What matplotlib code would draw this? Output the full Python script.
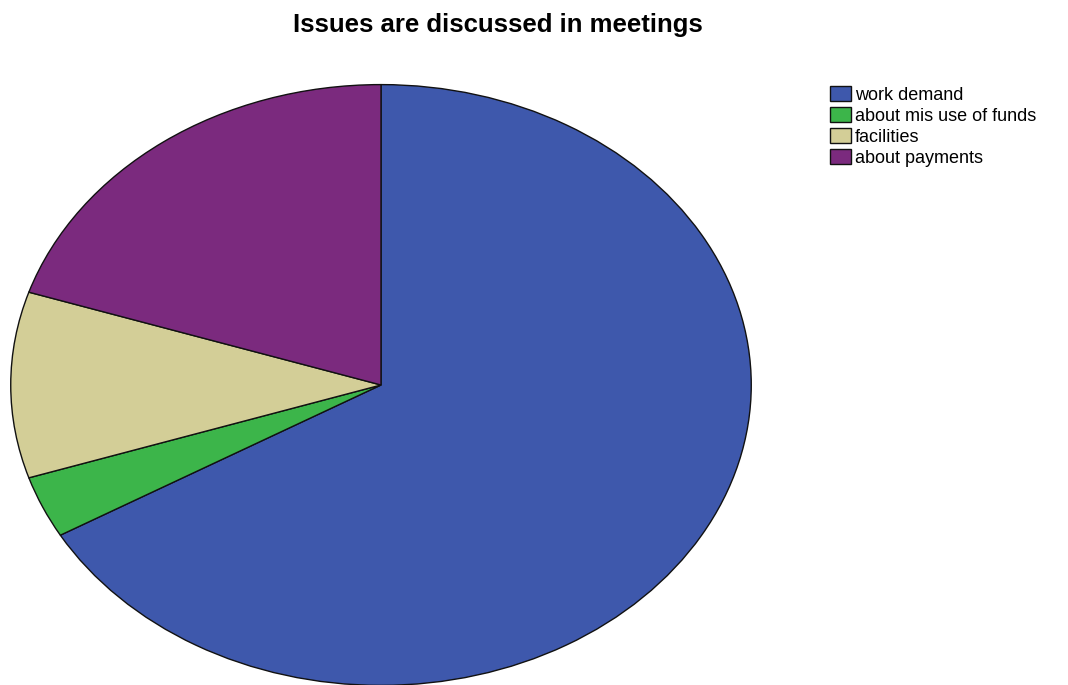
import matplotlib.pyplot as plt

# Responses: which issues are discussed in meetings
labels = ["work demand", "about mis use of funds", "facilities", "about payments"]
counts = [20, 1, 3, 6]
colors = ["#3E58AC", "#3CB54A", "#D3CE97", "#7B2A7E"]

plt.rcParams["font.family"] = ["Liberation Sans", "DejaVu Sans"]

fig = plt.figure(figsize=(10.68, 6.85), dpi=100)
W, H = 1068, 685

# pie axes stretched horizontally, so the pie is drawn as an ellipse
ax = fig.add_axes([10 / W, -1 / H, 742 / W, 602 / H])
wedges, _ = ax.pie(
    counts,
    colors=colors,
    startangle=90,
    counterclock=False,
    wedgeprops=dict(edgecolor="#111111", linewidth=1.0),
)
ax.set_aspect("auto")
ax.set_xlim(-1.002, 1.002)
ax.set_ylim(-1.002, 1.002)
ax.axis("off")

fig.text(498 / W, 1 - 32 / H, "Issues are discussed in meetings",
         ha="center", va="baseline", fontsize=18.5, fontweight="bold")

fig.legend(
    wedges, labels,
    loc="upper left",
    bbox_to_anchor=(830 / W, 1 - 86 / H),
    frameon=False,
    fontsize=13,
    handlelength=1.17,
    handleheight=0.86,
    handletextpad=0.2,
    labelspacing=0.2,
    borderpad=0,
    borderaxespad=0,
)

fig.savefig("out.png", dpi=100)
